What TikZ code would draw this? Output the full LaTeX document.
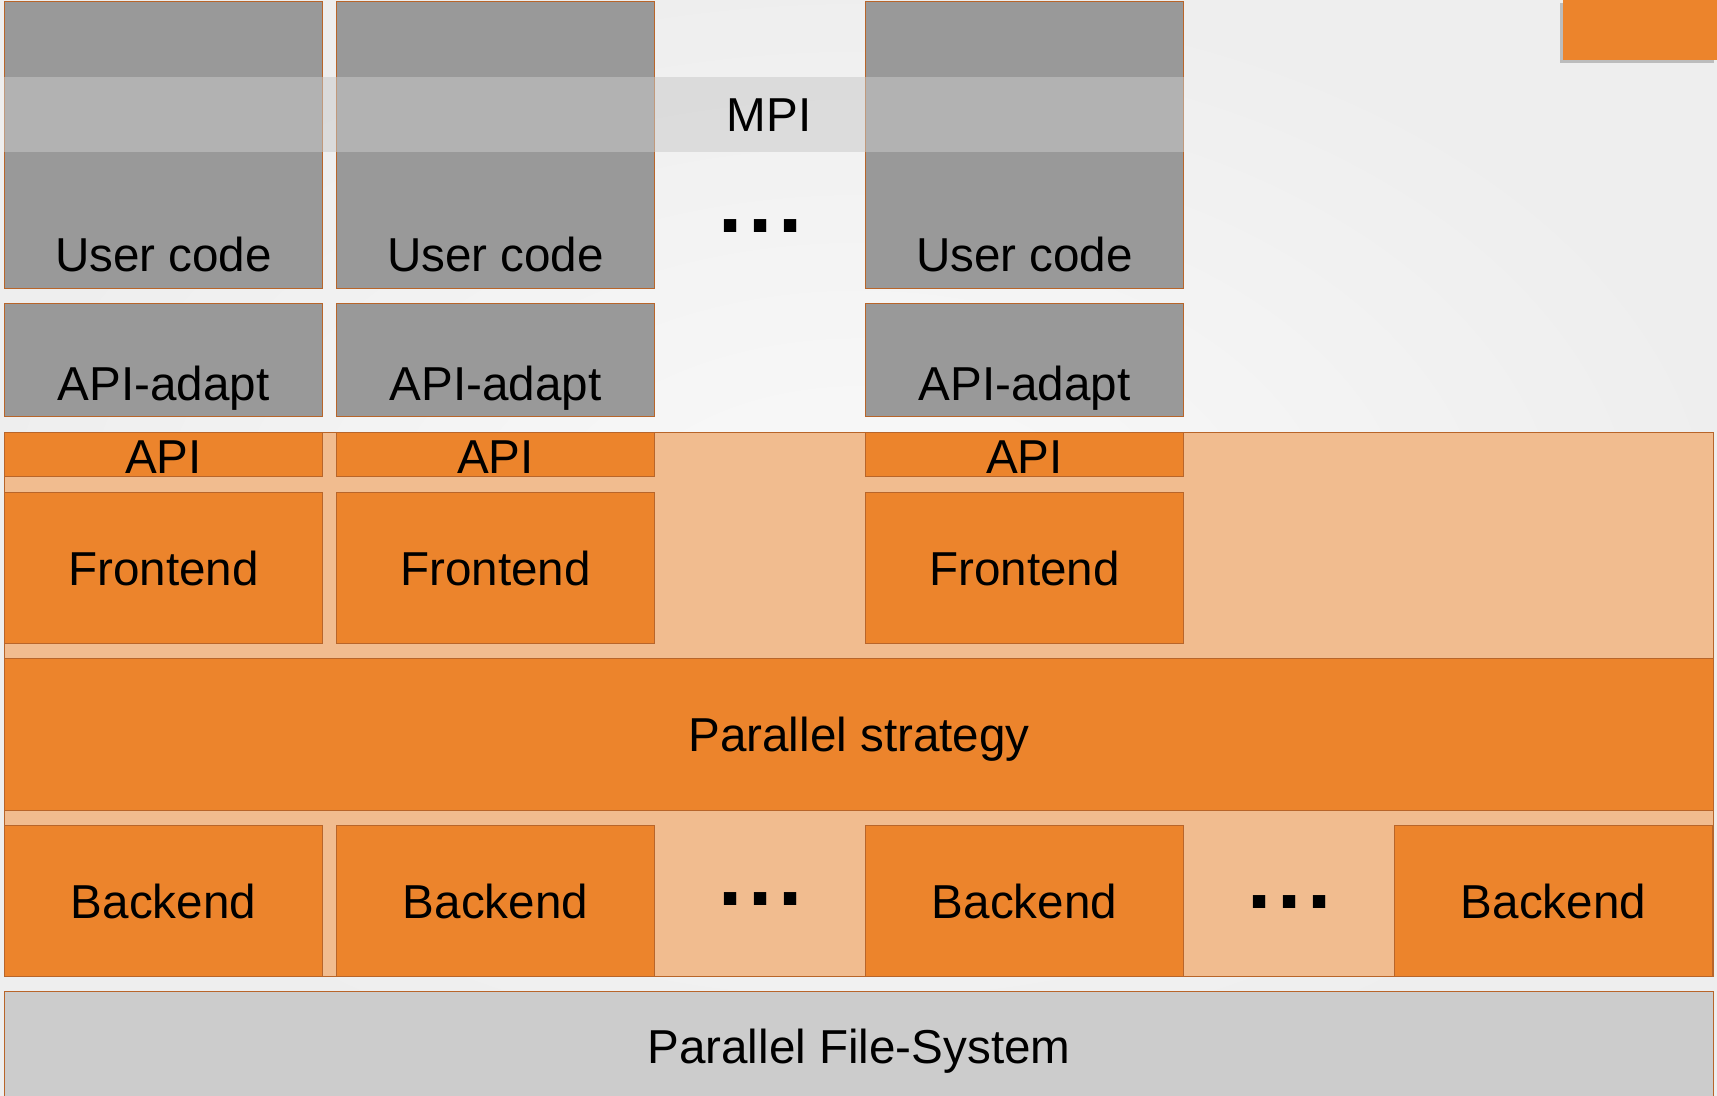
\documentclass[tikz,border=0pt]{standalone}
\usepackage{fontspec}
\setmainfont{Liberation Sans}
\usetikzlibrary{positioning,shadows}
\definecolor{boxgray}{HTML}{999999}
\definecolor{rim}{HTML}{B8652A}
\definecolor{orng}{HTML}{EC842C}
\definecolor{lightorng}{HTML}{F1BC8F}
\definecolor{fsgray}{HTML}{CCCCCC}
\definecolor{mpigray}{HTML}{C9C9C9}
\tikzset{node distance=7pt}
\tikzset{
  layer/.style={rectangle, draw=rim, line width=0.5pt, inner sep=0pt,
    font=\fontsize{23.8}{28}\selectfont},
  ucbox/.style={layer, fill=boxgray, minimum width=159pt,
    text height=135pt, text depth=8.5pt},
  adaptbox/.style={layer, fill=boxgray, minimum width=159pt,
    text height=48.5pt, text depth=8pt},
  apibox/.style={layer, fill=orng, minimum width=159pt,
    text height=20.5pt, text depth=1.5pt},
  orngbox/.style={layer, fill=orng, minimum width=159pt, minimum height=75.5pt,
    text height=17pt, text depth=0pt},
  widebox/.style={layer, minimum width=854.5pt, text height=17pt, text depth=0pt},
  lbl/.style={inner sep=0pt, font=\fontsize{23.8}{28}\selectfont,
    text height=17pt, text depth=0pt},
  dots/.style={inner sep=0pt, font=\bfseries\fontsize{43.5}{50}\selectfont,
    text height=6pt, text depth=0pt}
}
\begin{document}
\begin{tikzpicture}[x=1pt,y=-1pt]
  \useasboundingbox (0,0) rectangle (858.5,548);
  \shade[inner color=white!98!black, outer color=white!93.5!black] (0,0) rectangle (858.5,548);
  % corner tab
  \node[rectangle, fill=orng, minimum width=77pt, minimum height=30pt, anchor=north east,
    drop shadow={shadow xshift=-1.5pt, shadow yshift=-1.5pt, opacity=0.45}] (tab) at (858.5,0) {};
  % processes
  \node[ucbox, anchor=north west] (uc1) at (2,0.5) {User code};
  \node[ucbox] (uc2) [right=6.5pt of uc1] {User code};
  \node[ucbox] (uc3) [right=105pt of uc2] {User code};
  \node[adaptbox] (ad1) [below=7pt of uc1] {API-adapt};
  \node[adaptbox] (ad2) [below=7pt of uc2] {API-adapt};
  \node[adaptbox] (ad3) [below=7pt of uc3] {API-adapt};
  \fill[mpigray, fill opacity=0.52] (uc1.west |- 0,38.5) rectangle (uc3.east |- 0,76);
  \node[lbl] (mpi) at (384.5,57.5) {MPI};
  \node[dots] (dtop) at (380.5,113.5) {.\kern2.9pt.\kern2.9pt.};
  % library
  \node[layer, fill=lightorng, minimum width=854.5pt, minimum height=272pt, anchor=north west] (lib) at (2,216) {};
  \node[apibox, anchor=north west] (api1) at (2,216) {API};
  \node[apibox] (api2) [right=6.5pt of api1] {API};
  \node[apibox] (api3) [right=105pt of api2] {API};
  \node[orngbox] (fe1) [below=7.5pt of api1] {Frontend};
  \node[orngbox] (fe2) [below=7.5pt of api2] {Frontend};
  \node[orngbox] (fe3) [below=7.5pt of api3] {Frontend};
  \node[widebox, fill=orng, minimum height=76pt, anchor=north west] (ps) at (2,329) {Parallel strategy};
  \node[orngbox, anchor=north west] (be1) at (2,412.5) {Backend};
  \node[orngbox] (be2) [right=6.5pt of be1] {Backend};
  \node[orngbox] (be3) [right=105pt of be2] {Backend};
  \node[orngbox] (be4) [right=105pt of be3] {Backend};
  \node[dots] (dbe1) at (380.5,449.5) {.\kern2.9pt.\kern2.9pt.};
  \node[dots] (dbe2) at (645,451) {.\kern2.9pt.\kern2.9pt.};
  % storage
  \node[widebox, fill=fsgray, minimum height=54.5pt, anchor=north west] (pfs) at (2,495.5) {Parallel File-System};
\end{tikzpicture}
\end{document}
